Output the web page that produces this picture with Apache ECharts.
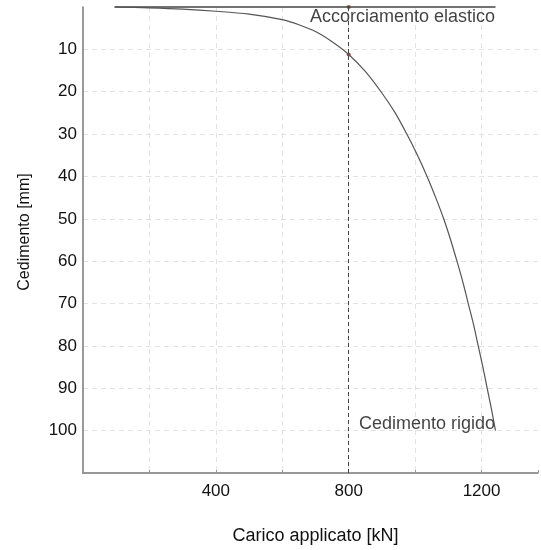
<!DOCTYPE html>
<html>
<head>
<meta charset="utf-8">
<script src="https://cdn.jsdelivr.net/npm/echarts@6/dist/echarts.min.js"></script>
<style>
  html, body { margin: 0; padding: 0; background: #fff; }
  #chart { width: 541px; height: 550px; }
</style>
</head>
<body>
<div id="chart"></div>
<script>
  // load (kN) vs settlement (mm)
  const loads = [95, 200, 300, 400, 500, 600, 650, 700, 750, 800, 850, 900, 940, 975, 1007, 1036, 1062, 1086, 1107, 1126, 1144, 1160, 1176, 1190, 1204, 1217, 1230, 1242];
  const settlements = [0, 0.2, 0.5, 1.0, 1.7, 3.0, 4.2, 5.8, 8.2, 11.2, 15.2, 20.3, 25, 30, 35, 40, 45, 50, 55, 60, 65, 70, 75, 80, 85, 90, 95, 100];

  const elasticLoads = [95, 1242];
  const elasticSettlements = [0, 0];

  const workLoad = 800;
  const workPoints = [0, 11.2];

  const xLabels = [400, 800, 1200];
  const yLabels = [10, 20, 30, 40, 50, 60, 70, 80, 90, 100];

  const labelNames = ['Accorciamento elastico', 'Cedimento rigido'];

  const font = 'Liberation Sans, Arial, sans-serif';
  const chart = echarts.init(document.getElementById('chart'));

  const curveData = loads.map((x, i) => [x, settlements[i]]);
  const elasticData = elasticLoads.map((x, i) => [x, elasticSettlements[i]]);
  const workData = workPoints.map(y => [workLoad, y]);

  const option = {
    animation: false,
    grid: { left: 83, right: 0, top: 7, bottom: 77 },
    xAxis: {
      type: 'value',
      min: 0,
      max: 1370,
      interval: 200,
      name: 'Carico applicato [kN]',
      nameLocation: 'middle',
      nameGap: 54,
      nameTextStyle: { fontSize: 18, color: '#111', fontFamily: font, padding: [0, 0, 0, 10] },
      axisLine: { show: true, onZero: false, lineStyle: { color: '#777', width: 1.5 } },
      axisTick: { show: true, inside: true, length: 3, lineStyle: { color: '#999' } },
      axisLabel: {
        fontSize: 17, color: '#111', fontFamily: font, margin: 10,
        formatter: v => (xLabels.includes(v) ? String(v) : '')
      },
      splitLine: {
        show: true, showMinLine: false, showMaxLine: false,
        lineStyle: { color: '#e2e2e2', type: [5, 4] }
      }
    },
    yAxis: {
      type: 'value',
      inverse: true,
      min: 0,
      max: 110,
      interval: 10,
      name: 'Cedimento [mm]',
      nameLocation: 'middle',
      nameGap: 50,
      nameTextStyle: { fontSize: 16, color: '#111', fontFamily: font, padding: [0, 0, 0, 16] },
      axisLine: { show: true, onZero: false, lineStyle: { color: '#777', width: 1.5 } },
      axisTick: { show: false },
      axisLabel: {
        fontSize: 17, color: '#111', fontFamily: font, margin: 6,
        formatter: v => (yLabels.includes(v) ? String(v) : '')
      },
      splitLine: {
        show: true, showMinLine: false, showMaxLine: false,
        lineStyle: { color: '#e2e2e2', type: [5, 4] }
      }
    },
    series: [
      {
        name: 'elastico',
        type: 'line',
        data: elasticData,
        showSymbol: false,
        clip: false,
        lineStyle: { color: '#444', width: 1.5 },
        silent: true
      },
      {
        name: 'curva',
        type: 'line',
        data: curveData,
        smooth: 0.3,
        showSymbol: false,
        clip: false,
        lineStyle: { color: '#555', width: 1.2 },
        markLine: {
          silent: true,
          symbol: 'none',
          label: { show: false },
          lineStyle: { color: '#444', type: [4, 3], width: 1 },
          data: [{ xAxis: workLoad }]
        }
      },
      {
        name: 'punti',
        type: 'scatter',
        data: workData,
        symbolSize: 4,
        clip: false,
        itemStyle: { color: '#8b1a1a' }
      },
      {
        name: 'etichette',
        type: 'scatter',
        symbolSize: 1,
        clip: false,
        itemStyle: { color: 'rgba(0,0,0,0)' },
        data: [
          {
            value: [elasticLoads[1], elasticSettlements[1]],
            label: {
              show: true, formatter: labelNames[0], position: [0, 2],
              align: 'right', verticalAlign: 'top',
              fontSize: 18, color: '#111', fontFamily: font
            }
          },
          {
            value: [loads[loads.length - 1], settlements[settlements.length - 1]],
            label: {
              show: true, formatter: labelNames[1], position: [0, 3],
              align: 'right', verticalAlign: 'bottom',
              fontSize: 18, color: '#111', fontFamily: font
            }
          }
        ]
      }
    ]
  };

  chart.setOption(option);
</script>
</body>
</html>
